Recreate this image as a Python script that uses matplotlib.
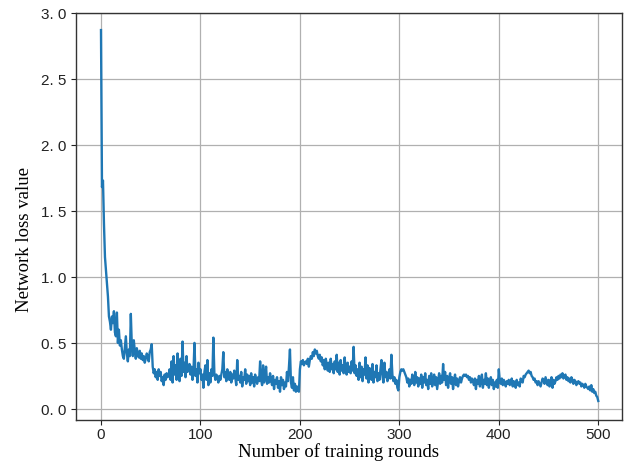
import numpy as np
import matplotlib.pyplot as plt

# loss per training round
loss = [
    2.87, 1.68, 1.73, 1.40, 1.15, 1.05, 0.95, 0.85, 0.70, 0.66,
    0.60, 0.70, 0.65, 0.74, 0.58, 0.55, 0.73, 0.50, 0.60, 0.48,
    0.52, 0.45, 0.40, 0.38, 0.47, 0.55, 0.42, 0.36, 0.45, 0.40,
    0.72, 0.48, 0.40, 0.52, 0.44, 0.38, 0.46, 0.42, 0.39, 0.44,
    0.38, 0.42, 0.37, 0.40, 0.35, 0.38, 0.42, 0.40, 0.36, 0.43,
    0.45, 0.49, 0.32, 0.27, 0.30, 0.24, 0.28, 0.22, 0.30, 0.25,
    0.28, 0.21, 0.24, 0.18, 0.26, 0.22, 0.27, 0.24, 0.25, 0.30,
    0.22, 0.36, 0.20, 0.40, 0.26, 0.33, 0.22, 0.42, 0.30, 0.21,
    0.38, 0.25, 0.51, 0.28, 0.35, 0.24, 0.40, 0.28, 0.30, 0.34,
    0.26, 0.32, 0.22, 0.29, 0.50, 0.25, 0.30, 0.20, 0.35, 0.27,
    0.30, 0.22, 0.26, 0.16, 0.28, 0.33, 0.22, 0.37, 0.18, 0.27,
    0.20, 0.30, 0.25, 0.54, 0.27, 0.22, 0.26, 0.24, 0.20, 0.25,
    0.22, 0.26, 0.30, 0.43, 0.24, 0.28, 0.21, 0.30, 0.25, 0.22,
    0.28, 0.20, 0.26, 0.23, 0.29, 0.24, 0.18, 0.37, 0.22, 0.25,
    0.20, 0.28, 0.17, 0.24, 0.22, 0.30, 0.19, 0.26, 0.21, 0.25,
    0.18, 0.27, 0.20, 0.24, 0.17, 0.26, 0.22, 0.19, 0.24, 0.21,
    0.36, 0.22, 0.18, 0.33, 0.20, 0.25, 0.32, 0.19, 0.24, 0.20,
    0.27, 0.22, 0.18, 0.25, 0.15, 0.22, 0.19, 0.24, 0.16, 0.21,
    0.13, 0.24, 0.18, 0.22, 0.15, 0.20, 0.17, 0.28, 0.21, 0.32,
    0.45, 0.20, 0.16, 0.24, 0.14, 0.19, 0.13, 0.17, 0.14, 0.13,
    0.30, 0.36, 0.34, 0.37, 0.33, 0.35, 0.36, 0.34, 0.38, 0.32,
    0.37, 0.40, 0.38, 0.43, 0.40, 0.45, 0.42, 0.44, 0.40, 0.38,
    0.41, 0.36, 0.39, 0.33, 0.37, 0.30, 0.38, 0.34, 0.29, 0.35,
    0.28, 0.38, 0.30, 0.34, 0.27, 0.36, 0.30, 0.41, 0.28, 0.35,
    0.26, 0.37, 0.29, 0.33, 0.27, 0.39, 0.30, 0.26, 0.35, 0.28,
    0.32, 0.27, 0.36, 0.29, 0.47, 0.27, 0.33, 0.25, 0.30, 0.22,
    0.35, 0.24, 0.32, 0.21, 0.30, 0.26, 0.39, 0.23, 0.33, 0.20,
    0.31, 0.25, 0.22, 0.34, 0.20, 0.28, 0.24, 0.33, 0.21, 0.27,
    0.22, 0.30, 0.37, 0.25, 0.20, 0.35, 0.24, 0.28, 0.21, 0.26,
    0.30, 0.23, 0.41, 0.26, 0.21, 0.24, 0.19, 0.22, 0.16, 0.14,
    0.24, 0.28, 0.30, 0.29, 0.30, 0.28, 0.26, 0.24, 0.20, 0.23,
    0.17, 0.22, 0.19, 0.26, 0.21, 0.18, 0.28, 0.20, 0.24, 0.17,
    0.23, 0.19, 0.26, 0.16, 0.24, 0.20, 0.27, 0.18, 0.22, 0.15,
    0.25, 0.19, 0.27, 0.17, 0.22, 0.26, 0.18, 0.24, 0.15, 0.21,
    0.27, 0.19, 0.25, 0.20, 0.34, 0.22, 0.28, 0.18, 0.25, 0.16,
    0.23, 0.27, 0.19, 0.24, 0.15, 0.22, 0.26, 0.18, 0.23, 0.17,
    0.21, 0.24, 0.20, 0.23, 0.25, 0.26, 0.25, 0.26, 0.24, 0.25,
    0.22, 0.24, 0.20, 0.23, 0.21, 0.18, 0.23, 0.15, 0.22, 0.19,
    0.25, 0.17, 0.21, 0.26, 0.16, 0.22, 0.19, 0.27, 0.18, 0.23,
    0.16, 0.21, 0.24, 0.18, 0.22, 0.15, 0.20, 0.17, 0.22, 0.16,
    0.30, 0.21, 0.19, 0.23, 0.18, 0.22, 0.20, 0.17, 0.21, 0.19,
    0.22, 0.18, 0.20, 0.23, 0.17, 0.21, 0.19, 0.16, 0.22, 0.18,
    0.20, 0.17, 0.23, 0.21, 0.20, 0.25, 0.24, 0.26, 0.27, 0.28,
    0.29, 0.27, 0.28, 0.25, 0.24, 0.22, 0.23, 0.20, 0.21, 0.18,
    0.21, 0.19, 0.17, 0.20, 0.23, 0.22, 0.19, 0.24, 0.21, 0.18,
    0.22, 0.17, 0.21, 0.24, 0.16, 0.22, 0.19, 0.21, 0.24, 0.22,
    0.25, 0.23, 0.26, 0.24, 0.27, 0.23, 0.25, 0.26, 0.22, 0.24,
    0.21, 0.23, 0.20, 0.24, 0.22, 0.19, 0.22, 0.21, 0.18, 0.20,
    0.21, 0.19, 0.20, 0.17, 0.19, 0.18, 0.16, 0.19, 0.17, 0.16,
    0.15, 0.17, 0.14, 0.18, 0.13, 0.15, 0.12, 0.13, 0.10, 0.09,
    0.06,
]
rounds = np.arange(len(loss))

x_ticks = [0, 100, 200, 300, 400, 500]
y_ticks = [0.0, 0.5, 1.0, 1.5, 2.0, 2.5, 3.0]
y_tick_labels = ["0. 0", "0. 5", "1. 0", "1. 5", "2. 0", "2. 5", "3. 0"]

fig = plt.figure(figsize=(6.24, 4.64), dpi=100)
ax = fig.add_axes([0.122, 0.093, 0.875, 0.877])

ax.plot(rounds, loss, color="#1f77b4", linewidth=1.7)

ax.set_xlim(-25, 524)
ax.set_ylim(-0.083, 3.0)
ax.set_xticks(x_ticks)
ax.set_xticklabels([str(t) for t in x_ticks], family="Liberation Sans", fontsize=11)
ax.set_yticks(y_ticks)
ax.set_yticklabels(y_tick_labels, family="Liberation Sans", fontsize=11)
ax.tick_params(colors="#222222", labelcolor="#222222")
ax.tick_params(axis="x", pad=2)

ax.grid(True, color="#b0b0b0", linewidth=0.9)
ax.set_axisbelow(True)

for s in ax.spines.values():
    s.set_color("#333333")
    s.set_linewidth(1.0)

ax.set_xlabel("Number of training rounds", family="Liberation Serif", fontsize=13.5)
ax.xaxis.set_label_coords(0.48, -0.054)
ax.set_ylabel("Network loss value", family="Liberation Serif", fontsize=13.5)
ax.yaxis.set_label_coords(-0.079, 0.445)

fig.savefig("out.png", dpi=100)
plt.close(fig)
